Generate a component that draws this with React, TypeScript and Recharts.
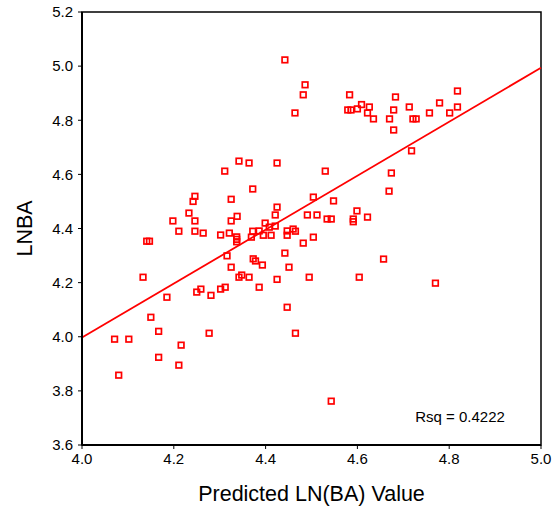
import { ScatterChart, Scatter, XAxis, YAxis, ReferenceLine, ReferenceArea, ReferenceDot } from 'recharts'

const predicted = [
  4.442, 4.486, 4.482, 4.464, 4.311, 4.342, 4.364, 4.425, 4.530, 4.372,
  4.246, 4.242, 4.325, 4.504, 4.548, 4.233, 4.198, 4.246, 4.325, 4.338,
  4.425, 4.421, 4.491, 4.512, 4.534, 4.543, 4.591, 4.591, 4.599, 4.622,
  4.669, 4.583, 4.683, 4.579, 4.586, 4.600, 4.609, 4.626, 4.622, 4.635,
  4.670, 4.679, 4.679, 4.713, 4.721, 4.728, 4.757, 4.779, 4.801, 4.818,
  4.818, 4.718, 4.674, 4.399, 4.408, 4.421, 4.211, 4.246, 4.264, 4.141,
  4.147, 4.302, 4.321, 4.337, 4.337, 4.337, 4.372, 4.386, 4.369, 4.395,
  4.412, 4.447, 4.447, 4.460, 4.465, 4.482, 4.504, 4.316, 4.325, 4.342,
  4.348, 4.364, 4.373, 4.378, 4.393, 4.442, 4.451, 4.386, 4.425, 4.495,
  4.604, 4.657, 4.770, 4.447, 4.465, 4.543, 4.133, 4.185, 4.250, 4.259,
  4.281, 4.302, 4.312, 4.150, 4.167, 4.277, 4.071, 4.102, 4.216, 4.167,
  4.211, 4.080,
]

const lnba = [
  5.023, 4.931, 4.894, 4.827, 4.612, 4.649, 4.642, 4.642, 4.612, 4.546,
  4.519, 4.500, 4.508, 4.516, 4.502, 4.457, 4.428, 4.428, 4.428, 4.445,
  4.479, 4.450, 4.450, 4.450, 4.435, 4.435, 4.435, 4.425, 4.465, 4.442,
  4.538, 4.894, 4.886, 4.838, 4.838, 4.842, 4.858, 4.849, 4.827, 4.805,
  4.805, 4.838, 4.764, 4.849, 4.805, 4.805, 4.827, 4.864, 4.827, 4.908,
  4.849, 4.687, 4.605, 4.420, 4.405, 4.409, 4.390, 4.390, 4.383, 4.353,
  4.353, 4.376, 4.383, 4.369, 4.360, 4.351, 4.390, 4.391, 4.368, 4.375,
  4.375, 4.391, 4.375, 4.398, 4.390, 4.346, 4.368, 4.299, 4.257, 4.220,
  4.228, 4.220, 4.288, 4.280, 4.265, 4.309, 4.257, 4.183, 4.212, 4.220,
  4.220, 4.287, 4.198, 4.109, 4.013, 3.762, 4.220, 4.146, 4.165, 4.176,
  4.153, 4.176, 4.183, 4.072, 4.020, 4.013, 3.991, 3.991, 3.969, 3.924,
  3.895, 3.858,
]

const xTicks = [4.0, 4.2, 4.4, 4.6, 4.8, 5.0]
const yTicks = [3.6, 3.8, 4.0, 4.2, 4.4, 4.6, 4.8, 5.0, 5.2]

// fitted line end points
const fitX = [4.0, 5.0]
const fitY = [3.997, 4.994]

const rsqText = 'Rsq = 0.4222'

const points = predicted.map((x, i) => ({ x, y: lnba[i] }))

const RED = '#ff0000'
const FONT = '"Liberation Sans", Arial, sans-serif'

function Square(props: any) {
  const { cx, cy } = props
  if (cx == null || cy == null) return null
  return <rect x={cx - 2.8} y={cy - 2.8} width={5.6} height={5.6} fill="none" stroke={RED} strokeWidth={1.7} />
}

export default function App() {
  return (
    <div style={{ position: 'absolute', left: 0, top: 0, width: 559, height: 507, background: '#fff', fontFamily: FONT }}>
      <ScatterChart width={559} height={507} margin={{ top: 12, right: 18, bottom: 0, left: 0 }}>
        <XAxis
          type="number"
          dataKey="x"
          domain={[4.0, 5.0]}
          ticks={xTicks}
          tickFormatter={(v: number) => v.toFixed(1)}
          height={62}
          axisLine={{ stroke: '#000', strokeWidth: 2 }}
          tickLine={{ stroke: '#000' }}
          tickSize={4}
          tickMargin={4}
          tick={{ fontSize: 15, fill: '#000', fontFamily: FONT }}
          label={{ value: 'Predicted LN(BA) Value', position: 'insideBottom', offset: 6, fontSize: 21.5, fill: '#000', fontFamily: FONT }}
        />
        <YAxis
          type="number"
          dataKey="y"
          domain={[3.6, 5.2]}
          ticks={yTicks}
          tickFormatter={(v: number) => v.toFixed(1)}
          width={82}
          axisLine={{ stroke: '#000', strokeWidth: 2 }}
          tickLine={{ stroke: '#000' }}
          tickSize={4}
          tickMargin={5}
          tick={{ fontSize: 15, fill: '#000', fontFamily: FONT }}
          label={{ value: 'LNBA', angle: -90, position: 'insideLeft', offset: 24, fontSize: 21.5, fill: '#000', fontFamily: FONT, style: { textAnchor: 'middle' } }}
        />
        <ReferenceArea x1={4.0} x2={5.0} y1={3.6} y2={5.2} fill="none" stroke="#000" strokeWidth={1.5} ifOverflow="visible" />
        <ReferenceLine
          segment={[{ x: fitX[0], y: fitY[0] }, { x: fitX[1], y: fitY[1] }]}
          stroke={RED}
          strokeWidth={1.8}
          ifOverflow="visible"
        />
        <Scatter data={points} shape={<Square />} isAnimationActive={false} />
        <ReferenceDot
          x={4.715}
          y={3.705}
          r={0}
          fill="none"
          stroke="none"
          label={{ value: rsqText, position: 'right', fontSize: 15, fill: '#000', fontFamily: FONT }}
        />
      </ScatterChart>
    </div>
  )
}
